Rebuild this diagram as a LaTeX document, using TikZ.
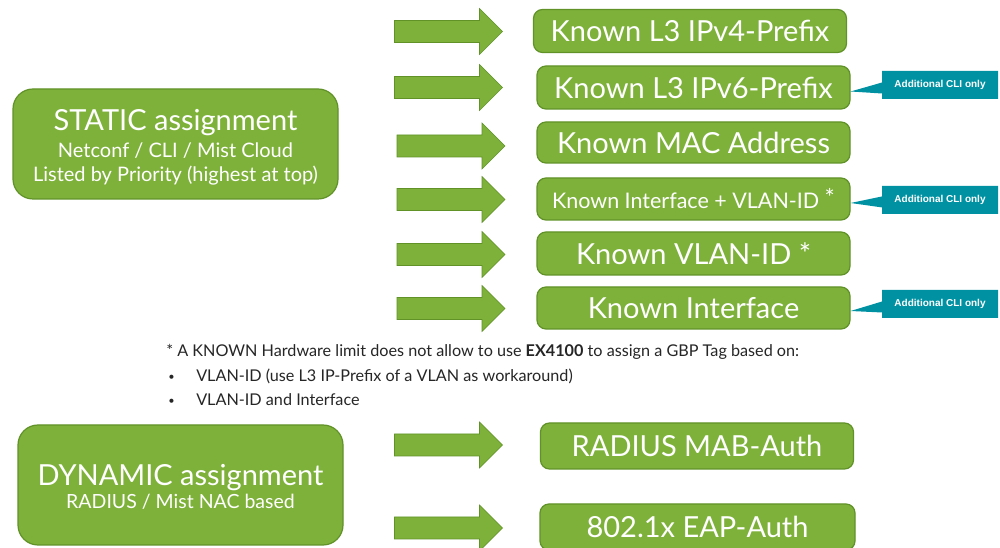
\documentclass[tikz,border=0pt]{standalone}
\usepackage{fontspec}
\setmainfont{Lato}
\newfontfamily\calloutfont{Liberation Sans}
\usetikzlibrary{shapes.callouts}
\newdimen\pxu \pxu=0.75pt
\definecolor{boxgreen}{RGB}{126,177,58}
\definecolor{boxedge}{RGB}{96,146,40}
\definecolor{teal}{RGB}{0,146,163}
\newcommand{\fsz}[1]{\fontsize{#1\pxu}{1.15\dimexpr#1\pxu\relax}\selectfont}
\tikzset{
  greenbox/.style={draw=boxedge, line width=1.2\pxu, fill=boxgreen, rounded corners=9\pxu,
    text=white, align=center, inner sep=0pt, minimum width=313\pxu, minimum height=43\pxu},
  bigbox/.style={draw=boxedge, line width=1.2\pxu, fill=boxgreen, rounded corners=20\pxu,
    inner sep=0pt, minimum width=325\pxu},
  boxtext/.style={text=white, align=center, inner sep=0pt},
  arrowfill/.style={draw=boxedge, line width=0.6\pxu, fill=boxgreen},
  blockarrow/.pic={\path[arrowfill] (-54,-11) -- (31,-11) -- (31,-23) -- (54,0) -- (31,23) -- (31,11) -- (-54,11) -- cycle;},
  note/.style={rectangle callout, fill=teal, text=white, minimum width=116\pxu,
    minimum height=28\pxu, inner sep=0pt, callout pointer width=11\pxu,
    font=\calloutfont\bfseries\fsz{10}},
  foot/.style={anchor=base west, inner sep=0pt, font=\fsz{16.2}, text=black!85}
}
\begin{document}
\begin{tikzpicture}[x=\pxu, y=-\pxu]
\useasboundingbox (0,0) rectangle (1000,548);
\fill[white] (0,0) rectangle (1000,548);

% left boxes
\node[bigbox, minimum height=110\pxu] (static) at (175.5,144) {};
\node[boxtext, font=\fsz{20}] (statictext) at ([yshift=-3\pxu]static.center)
  {{\fsz{29}STATIC assignment}\\[4\pxu]Netconf / CLI / Mist Cloud\\[1\pxu]Listed by Priority (highest at top)};
\node[bigbox, minimum height=120\pxu] (dynamic) at (180.5,485) {};
\node[boxtext, font=\fsz{19.5}] (dynamictext) at ([yshift=-2\pxu]dynamic.center)
  {{\fsz{29}DYNAMIC assignment}\\[1\pxu]RADIUS / Mist NAC based};

% arrows
\pic (a1) at (448.5,31.5) {blockarrow};
\pic (a2) at (448.5,87.5) {blockarrow};
\pic (a3) at (451,146) {blockarrow};
\pic (a4) at (451,199.5) {blockarrow};
\pic (a5) at (451,254.5) {blockarrow};
\pic (a6) at (451,308.5) {blockarrow};
\pic (a7) at (448.5,445) {blockarrow};
\pic (a8) at (448.5,528) {blockarrow};

% right boxes
\node[greenbox] (b1) at (690,31) {\fsz{29}Known L3 IPv4-Prefix};
\node[greenbox] (b2) at (693.5,87.5) {\fsz{29}Known L3 IPv6-Prefix};
\node[greenbox, minimum height=41\pxu] (b3) at (693.5,142.5) {\fsz{29}Known MAC Address};
\node[greenbox, minimum height=42\pxu] (b4) at (693.5,199) {\fsz{21.5}Known Interface + VLAN-ID \raisebox{2\pxu}{\fsz{24}*}};
\node[greenbox] (b5) at (693.5,253.5) {\fsz{29}Known VLAN-ID *};
\node[greenbox, minimum height=42\pxu] (b6) at (693.5,308) {\fsz{29}Known Interface};
\node[greenbox, minimum height=46\pxu] (b7) at (697,446) {\fsz{29}RADIUS MAB-Auth};
\node[greenbox, minimum height=46\pxu, minimum width=315\pxu] (b8) at (697.5,527) {\fsz{29}802.1x EAP-Auth};

% callouts
\node[note, callout absolute pointer={([yshift=-4\pxu]b2.east)}] (c1) at (940,85) {Additional CLI only};
\node[note, callout absolute pointer={([yshift=-4\pxu]b4.east)}] (c2) at (940,200) {Additional CLI only};
\node[note, callout absolute pointer={([yshift=-3\pxu]b6.east)}] (c3) at (940,304) {Additional CLI only};

% footnote
\node[foot] (f0) at (166,357) {* A KNOWN Hardware limit does not allow to use \textbf{EX4100} to assign a GBP Tag based on:};
\node[foot, font=\fsz{11}] (f1b) at (168,381) {\textbullet};
\node[foot] (f1) at (196,382) {VLAN-ID (use L3 IP-Prefix of a VLAN as workaround)};
\node[foot, font=\fsz{11}] (f2b) at (168,405) {\textbullet};
\node[foot] (f2) at (196,406) {VLAN-ID and Interface};
\end{tikzpicture}
\end{document}
